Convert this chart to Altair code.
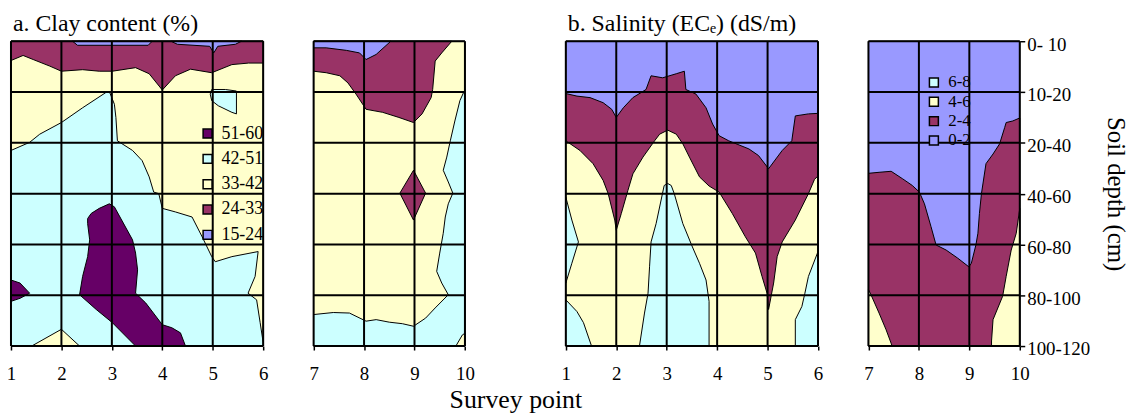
import altair as alt
import pandas as pd

# ---------------- categories / labels ----------------
survey_points_left = [1, 2, 3, 4, 5, 6]
survey_points_right = [7, 8, 9, 10]
depth_labels = ["0- 10", "10-20", "20-40", "40-60", "60-80", "80-100", "100-120"]
panel_titles = ["a. Clay content (%)", "b. Salinity (ECₑ) (dS/m)"]
axis_x_title = "Survey point"
axis_y_title = "Soil depth (cm)"

clay_classes = ["51-60", "42-51", "33-42", "24-33", "15-24"]
clay_colors = ["#660066", "#CCFFFF", "#FFFFCC", "#993366", "#9999FF"]
sal_classes = ["6-8", "4-6", "2-4", "0-2"]
sal_colors = ["#CCFFFF", "#FFFFCC", "#993366", "#9999FF"]

# ---------------- clay content contour regions (survey point, depth index) ----------------
clay_base_l_x = [1, 6, 6, 1]
clay_base_l_d = [0, 0, 6, 6]
clay_base_r_x = [7, 10, 10, 7]
clay_base_r_d = [0, 0, 6, 6]

clay_top_l_x = [1, 6, 6, 5.71, 5.38, 4.98, 4.56, 4.26, 4.0, 3.74, 3.47, 3.01, 2.75, 2.42, 2.0, 1.77, 1.44, 1.24, 1.0]
clay_top_l_d = [0, 0, 0.43, 0.43, 0.46, 0.62, 0.55, 0.68, 0.96, 0.64, 0.52, 0.59, 0.59, 0.56, 0.59, 0.49, 0.36, 0.28, 0.38]
clay_cyan_l_x = [1, 1.37, 1.57, 2.0, 2.42, 2.88, 2.95, 3.05, 3.08, 3.11, 3.41, 3.60, 3.74, 3.83, 3.93, 4.0, 4.26,
                 4.59, 4.79, 4.98, 5.05, 5.38, 5.90, 5.84, 5.70, 5.87, 5.94, 6.0, 6.0, 1.0]
clay_cyan_l_d = [2.15, 1.99, 1.83, 1.60, 1.31, 1.01, 0.99, 1.24, 1.50, 1.96, 2.15, 2.35, 2.67, 2.97, 3.0, 3.29, 3.36,
                 3.46, 3.85, 4.24, 4.34, 4.24, 4.14, 4.63, 4.96, 5.09, 5.54, 5.93, 6.0, 6.0]
clay_top_r_x = [7, 9.74, 9.54, 9.41, 9.36, 9.33, 9.15, 8.98, 8.69, 8.37, 8.04, 7.84, 7.68, 7.52, 7.25, 7.0]
clay_top_r_d = [0, 0, 0.23, 0.39, 0.95, 1.11, 1.43, 1.60, 1.50, 1.40, 1.34, 1.04, 0.82, 0.68, 0.62, 0.59]
clay_cyan_r_x = [10, 9.90, 9.80, 9.71, 9.64, 9.57, 9.67, 9.76, 9.67, 9.61, 9.57, 9.50, 9.44, 9.54, 9.67, 9.41,
                 9.22, 8.98, 8.76, 8.50, 8.24, 8.04, 7.71, 7.39, 7.0, 7.0, 10.0]
clay_cyan_r_d = [0.95, 1.17, 1.57, 1.96, 2.28, 2.54, 2.77, 2.99, 3.20, 3.46, 3.78, 4.17, 4.53, 4.76, 4.99, 5.25,
                 5.45, 5.61, 5.56, 5.53, 5.48, 5.51, 5.35, 5.34, 5.38, 6.0, 6.0]

clay_low1_x = [2.22, 3.80, 3.72, 3.0, 2.32]
clay_low1_d = [0, 0, 0.08, 0.08, 0.08]
clay_low2_x = [4.17, 5.57, 5.45, 5.10, 5.02, 4.94, 4.30]
clay_low2_d = [0, 0, 0.06, 0.10, 0.23, 0.10, 0.06]
clay_low3_x = [7.0, 8.53, 8.24, 8.04, 7.91, 7.65, 7.25, 7.0]
clay_low3_d = [0, 0, 0.26, 0.36, 0.23, 0.18, 0.13, 0.13]
clay_blob_x = [2.52, 2.59, 2.75, 2.95, 3.05, 3.41, 3.47, 3.51, 3.47, 3.67, 4.0, 4.19, 4.36, 4.46, 3.47, 3.01,
               2.69, 2.36, 2.42, 2.52, 2.56, 2.52]
clay_blob_d = [3.49, 3.39, 3.29, 3.20, 3.26, 3.91, 4.17, 4.50, 4.96, 5.15, 5.58, 5.64, 5.74, 6.0, 6.0, 5.54,
               5.28, 4.99, 4.63, 4.24, 3.91, 3.59]
clay_edge_x = [1.0, 1.18, 1.37, 1.18, 1.0]
clay_edge_d = [4.70, 4.76, 4.96, 5.06, 5.12]
clay_tri_x = [1.41, 2.0, 2.36]
clay_tri_d = [6.0, 5.67, 6.0]
clay_island_x = [4.98, 5.25, 5.47, 5.47, 5.38, 5.11, 4.98, 4.95]
clay_island_d = [0.95, 0.95, 0.98, 1.43, 1.40, 1.27, 1.17, 1.04]
clay_diamond_x = [8.98, 9.22, 8.98, 8.71]
clay_diamond_d = [2.54, 2.99, 3.52, 2.99]
clay_corner_x = [9.82, 9.95, 10.0, 10.0]
clay_corner_d = [6.0, 5.78, 5.75, 6.0]

clay_regions = [
    ("base_l", "33-42", 0, clay_base_l_x, clay_base_l_d),
    ("base_r", "33-42", 0, clay_base_r_x, clay_base_r_d),
    ("top_l", "24-33", 1, clay_top_l_x, clay_top_l_d),
    ("cyan_l", "42-51", 1, clay_cyan_l_x, clay_cyan_l_d),
    ("top_r", "24-33", 1, clay_top_r_x, clay_top_r_d),
    ("cyan_r", "42-51", 1, clay_cyan_r_x, clay_cyan_r_d),
    ("low1", "15-24", 2, clay_low1_x, clay_low1_d),
    ("low2", "15-24", 2, clay_low2_x, clay_low2_d),
    ("low3", "15-24", 2, clay_low3_x, clay_low3_d),
    ("blob", "51-60", 2, clay_blob_x, clay_blob_d),
    ("edge", "51-60", 2, clay_edge_x, clay_edge_d),
    ("tri", "33-42", 2, clay_tri_x, clay_tri_d),
    ("island", "42-51", 2, clay_island_x, clay_island_d),
    ("diamond", "24-33", 2, clay_diamond_x, clay_diamond_d),
    ("corner", "33-42", 2, clay_corner_x, clay_corner_d),
]

# ---------------- salinity contour regions ----------------
sal_base_l_x = [1, 6, 6, 1]
sal_base_l_d = [0, 0, 6, 6]
sal_base_r_x = [7, 10, 10, 7]
sal_base_r_d = [0, 0, 6, 6]

sal_mid_l_x = [1.0, 1.22, 1.48, 1.74, 1.91, 2.0, 2.14, 2.33, 2.59, 2.69, 2.92, 3.19, 3.35, 3.38, 3.58, 3.78, 3.91,
               4.04, 4.23, 4.63, 4.82, 5.02, 5.29, 5.48, 5.55, 5.81, 6.0, 6.0, 1.0]
sal_mid_l_d = [1.03, 1.08, 1.11, 1.21, 1.34, 1.50, 1.31, 1.11, 0.95, 0.68, 0.72, 0.64, 0.59, 0.95, 1.04, 1.31, 1.63,
               1.86, 1.96, 2.12, 2.25, 2.51, 2.15, 1.96, 1.47, 1.43, 1.42, 6.0, 6.0]
sal_mid_r_x = [7.0, 7.21, 7.45, 7.68, 7.87, 8.01, 8.11, 8.24, 8.34, 8.54, 8.77, 8.99, 9.04, 9.13, 9.17, 9.20, 9.24,
               9.33, 9.47, 9.60, 9.70, 9.73, 9.86, 10.0, 10.0, 7.0]
sal_mid_r_d = [2.60, 2.58, 2.56, 2.71, 2.84, 2.97, 3.20, 3.65, 4.01, 4.11, 4.27, 4.44, 4.37, 4.01, 3.78, 3.39, 3.0,
               2.41, 2.22, 2.02, 1.70, 1.60, 1.57, 1.51, 6.0, 6.0]

sal_hi_l_x = [1.0, 1.28, 1.54, 1.74, 1.84, 1.97, 2.0, 2.10, 2.23, 2.33, 2.53, 2.76, 2.86, 3.02, 3.19, 3.32, 3.45,
              3.65, 3.84, 4.04, 4.30, 4.56, 4.76, 4.89, 4.99, 5.02, 5.12, 5.19, 5.29, 5.55, 5.81, 5.93, 6.0, 6.0, 1.0]
sal_hi_l_d = [1.96, 2.15, 2.41, 2.74, 3.0, 3.52, 3.72, 3.39, 2.94, 2.61, 2.28, 1.96, 1.83, 1.75, 1.83, 2.02, 2.28,
              2.67, 2.85, 2.97, 3.39, 3.85, 4.17, 4.63, 4.96, 5.28, 4.76, 4.24, 3.95, 3.52, 3.0, 2.72, 2.65, 6.0, 6.0]
sal_hi_r1_x = [7.0, 7.05, 7.21, 7.35, 7.47, 7.0]
sal_hi_r1_d = [4.89, 4.99, 5.35, 5.68, 6.0, 6.0]
sal_hi_r2_x = [10.0, 9.93, 9.83, 9.73, 9.66, 9.47, 9.44, 9.44, 10.0]
sal_hi_r2_d = [3.29, 3.78, 4.11, 4.63, 5.02, 5.48, 5.90, 6.0, 6.0]

sal_top1_x = [1.0, 1.12, 1.25, 1.12, 1.0]
sal_top1_d = [3.07, 3.52, 3.95, 4.37, 4.76]
sal_top2_x = [1.0, 1.22, 1.35, 1.51, 1.0]
sal_top2_d = [5.09, 5.32, 5.54, 6.0, 6.0]
sal_top3_x = [3.02, 3.09, 3.15, 3.32, 3.51, 3.65, 3.78, 3.84, 3.84, 2.46, 2.56, 2.63, 2.66, 2.69, 2.79, 2.95]
sal_top3_d = [2.80, 2.84, 3.0, 3.59, 4.05, 4.37, 4.70, 5.12, 6.0, 6.0, 5.35, 4.96, 4.44, 3.95, 3.59, 2.84]
sal_top4_x = [6.0, 5.81, 5.74, 5.68, 5.55, 5.55, 6.0]
sal_top4_d = [4.14, 4.63, 4.96, 5.22, 5.48, 6.0, 6.0]

sal_regions = [
    ("base_l", "0-2", 0, sal_base_l_x, sal_base_l_d),
    ("base_r", "0-2", 0, sal_base_r_x, sal_base_r_d),
    ("mid_l", "2-4", 1, sal_mid_l_x, sal_mid_l_d),
    ("mid_r", "2-4", 1, sal_mid_r_x, sal_mid_r_d),
    ("hi_l", "4-6", 2, sal_hi_l_x, sal_hi_l_d),
    ("hi_r1", "4-6", 2, sal_hi_r1_x, sal_hi_r1_d),
    ("hi_r2", "4-6", 2, sal_hi_r2_x, sal_hi_r2_d),
    ("top1", "6-8", 3, sal_top1_x, sal_top1_d),
    ("top2", "6-8", 3, sal_top2_x, sal_top2_d),
    ("top3", "6-8", 3, sal_top3_x, sal_top3_d),
    ("top4", "6-8", 3, sal_top4_x, sal_top4_d),
]

# ---------------- build ----------------
FONT = "Liberation Serif"
B_OFFSET = 11  # panel b is drawn right of panel a on one shared x scale
offsets = [0, B_OFFSET]


def rows(regions):
    out = []
    for name, cls, level, xs, ds in regions:
        for k, (x, d) in enumerate(zip(xs, ds)):
            out.append({"region": name, "cls": cls, "level": level, "i": k, "x": x, "d": d})
    return pd.DataFrame(out)


clay_df = rows(clay_regions)
sal_df = rows(sal_regions)

depth_idx = list(range(len(depth_labels)))
x_scale = alt.Scale(domain=[survey_points_left[0], survey_points_right[-1] + B_OFFSET], nice=False, zero=False)
y_scale = alt.Scale(domain=[depth_idx[0], depth_idx[-1]], reverse=True, nice=False, zero=False)

tick_values = [p + off for off in offsets for p in survey_points_left + survey_points_right]
label_js = "[" + ",".join("'" + s + "'" for s in depth_labels) + "]"

x_axis = alt.Axis(
    values=tick_values, labelExpr=f"datum.value > {B_OFFSET} ? datum.value - {B_OFFSET} : datum.value",
    title=axis_x_title, domain=False, grid=False, tickSize=4, tickColor="black", tickWidth=1.5,
    labelFont=FONT, labelFontSize=19, labelColor="black", labelPadding=15, labelFlush=False,
    labelOverlap=False, titleFont=FONT, titleFontSize=26, titleFontWeight="normal",
    titleColor="black", titlePadding=3,
)
y_axis = alt.Axis(
    orient="right", values=depth_idx, labelExpr=f"{label_js}[round(datum.value)]",
    title=axis_y_title, domain=False, grid=False, tickSize=5, tickColor="black", tickWidth=1.5,
    labelFont=FONT, labelFontSize=19, labelColor="black", labelPadding=2, labelFlush=False,
    labelOffset=3, labelOverlap=False, titleFont=FONT, titleFontSize=25, titleFontWeight="normal",
    titleColor="black", titlePadding=13,
)
X = alt.X("xp:Q", scale=x_scale, axis=x_axis, title=axis_x_title)
Y = alt.Y("d:Q", scale=y_scale, axis=y_axis, title=axis_y_title)


def fill_chart(df, classes, colors, offset, legend):
    scale = alt.Scale(domain=classes, range=colors)
    layers = []
    for lvl in sorted(df["level"].unique()):
        sub = df[df["level"] == lvl]
        layers.append(
            alt.Chart(sub)
            .transform_calculate(xp=f"datum.x + {offset}")
            .mark_line(interpolate="linear-closed", filled=True, stroke="black", strokeWidth=1)
            .encode(
                x=X,
                y=Y,
                color=alt.Color("cls:N", scale=scale, legend=legend),
                detail="region:N",
                order=alt.Order("i:Q"),
            )
        )
    return alt.layer(*layers)


legend_common = dict(
    title=None, orient="none", symbolType="square", symbolSize=81,
    symbolStrokeColor="black", symbolStrokeWidth=1.5, labelFont=FONT,
    labelColor="black", padding=0,
)
legend_clay = alt.Legend(legendX=189, legendY=84, labelFontSize=18, labelOffset=5, rowPadding=7.5, **legend_common)
legend_sal = alt.Legend(legendX=921, legendY=33, labelFontSize=17, labelOffset=6, rowPadding=1.5, **legend_common)

clay_chart = fill_chart(clay_df, clay_classes, clay_colors, offsets[0], legend_clay)
sal_chart = fill_chart(sal_df, sal_classes, sal_colors, offsets[1], legend_sal)

# grid lines of each panel
grid_rows = []
for off in offsets:
    for panel in (survey_points_left, survey_points_right):
        for x in panel:
            grid_rows.append({"xp": x + off, "d": depth_idx[0], "xp2": x + off, "d2": depth_idx[-1]})
        for dep in depth_idx:
            grid_rows.append({"xp": panel[0] + off, "d": dep, "xp2": panel[-1] + off, "d2": dep})
grid_df = pd.DataFrame(grid_rows)

grid = alt.Chart(grid_df).mark_rule(color="black", strokeWidth=2).encode(
    x=X, y=Y, x2="xp2:Q", y2="d2:Q",
)

titles_df = pd.DataFrame({
    "title": panel_titles,
    "xp": [survey_points_left[0] + off for off in offsets],
    "d": [depth_idx[0]] * len(panel_titles),
})
titles = alt.Chart(titles_df).mark_text(
    align="left", baseline="alphabetic", dx=2, dy=-10, font=FONT, fontSize=24, color="black"
).encode(x=X, y=Y, text="title:N")

chart = (
    alt.layer(clay_chart, sal_chart, grid, titles)
    .resolve_scale(color="independent")
    .properties(
        width=1016, height=307,
        autosize=alt.AutoSizeParams(type="none"),
        padding={"left": 3, "top": 32, "right": 110, "bottom": 72},
    )
    .configure_view(stroke=None)
)

chart.save("out.html", embed_options={"renderer": "svg", "actions": False})
